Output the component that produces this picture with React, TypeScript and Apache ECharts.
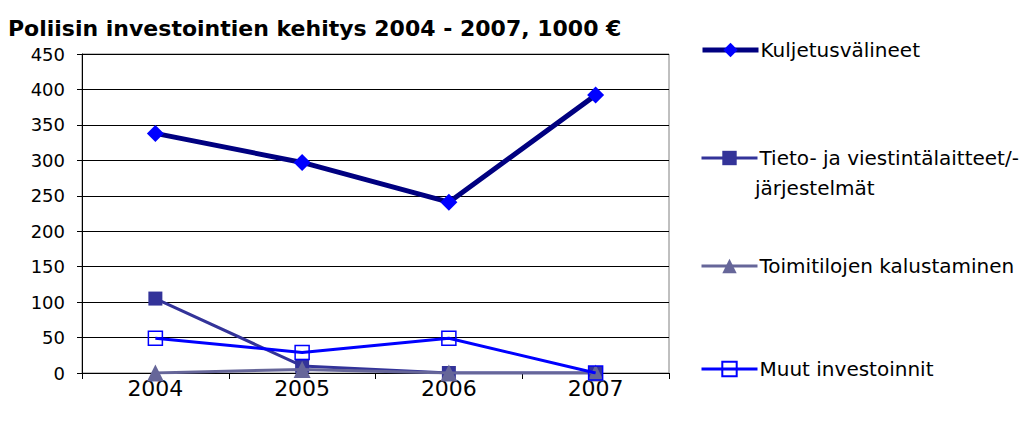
import React, { useEffect, useRef } from "react";
import * as echarts from "echarts";

const categories = ["2004", "2005", "2006", "2007"];
const seriesNames = [
  "Kuljetusvälineet",
  "Tieto- ja viestintälaitteet/-järjestelmät",
  "Toimitilojen kalustaminen",
  "Muut investoinnit",
];
const kuljetus = [338, 297, 241, 392];
const tieto = [105, 10, 0, 0];
const toimitilat = [0, 5, 0, 0];
const muut = [49, 29, 49, 0];
const yTicks = { min: 0, max: 450, interval: 50 };
const titleText = "Poliisin investointien kehitys 2004 - 2007, 1000 €";

const FONT = "'DejaVu Sans', sans-serif";

export default function App() {
  const ref = useRef<HTMLDivElement>(null);
  useEffect(() => {
    if (!ref.current) return;
    const chart = echarts.init(ref.current, undefined, { renderer: "svg" });
    const legendBase = {
      orient: "vertical",
      left: 695,
      itemWidth: 56,
      itemHeight: 18,
      itemGap: 0,
      lineStyle: { width: "inherit" },
      textStyle: { fontFamily: FONT, fontSize: 20, color: "#000", padding: [0, 0, 0, -3] },
      selectedMode: false,
    };
    chart.setOption({
      animation: false,
      textStyle: { fontFamily: FONT },
      title: {
        text: titleText,
        left: 3,
        top: 12,
        textStyle: { fontFamily: FONT, fontSize: 22, fontWeight: "bold", color: "#000" },
      },
      grid: {
        left: 82,
        right: 357,
        top: 54,
        bottom: 53,
        show: true,
        borderColor: "#808080",
        borderWidth: 1,
        backgroundColor: "#fff",
      },
      legend: [
        { ...legendBase, top: 35, data: [seriesNames[0]] },
        {
          ...legendBase,
          top: 143,
          data: [seriesNames[1]],
          formatter: () => "Tieto- ja viestintälaitteet/-",
        },
        { ...legendBase, top: 251, data: [seriesNames[2]] },
        { ...legendBase, top: 354, data: [seriesNames[3]] },
      ],
      graphic: [
        {
          type: "text",
          left: 755,
          top: 178,
          style: { text: "järjestelmät", font: `20px ${FONT}`, fill: "#000" },
        },
      ],
      xAxis: {
        type: "category",
        data: categories,
        boundaryGap: true,
        axisLine: { lineStyle: { color: "#000", width: 1 } },
        axisTick: { show: true, length: 6, inside: false, lineStyle: { color: "#000" } },
        axisLabel: { fontSize: 22, color: "#000", margin: 4, fontFamily: FONT },
        splitLine: { show: false },
      },
      yAxis: {
        type: "value",
        min: yTicks.min,
        max: yTicks.max,
        interval: yTicks.interval,
        axisLine: { show: true, lineStyle: { color: "#000", width: 1 } },
        axisTick: { show: true, length: 5, lineStyle: { color: "#000" } },
        axisLabel: { fontSize: 18, color: "#000", margin: 17, fontFamily: FONT },
        splitLine: { show: true, lineStyle: { color: "#000", width: 1 } },
      },
      series: [
        {
          name: seriesNames[0],
          type: "line",
          data: kuljetus,
          symbol: "diamond",
          symbolSize: 17,
          lineStyle: { color: "#000080", width: 5 },
          itemStyle: { color: "#0000FF" },
          z: 5,
        },
        {
          name: seriesNames[1],
          type: "line",
          data: tieto,
          symbol: "rect",
          symbolSize: 14,
          lineStyle: { color: "#333399", width: 3 },
          itemStyle: { color: "#333399" },
          z: 2,
        },
        {
          name: seriesNames[2],
          type: "line",
          data: toimitilat,
          symbol: "triangle",
          symbolSize: 17,
          lineStyle: { color: "#666699", width: 3 },
          itemStyle: { color: "#666699" },
          z: 3,
        },
        {
          name: seriesNames[3],
          type: "line",
          data: muut,
          symbol: "rect",
          symbolSize: 14,
          lineStyle: { color: "#0000FF", width: 3 },
          itemStyle: { color: "rgba(255,255,255,0)", borderColor: "#0000FF", borderWidth: 1.5 },
          z: 4,
        },
      ],
    });
    return () => chart.dispose();
  }, []);
  return (
    <div
      ref={ref}
      style={{ position: "absolute", left: 0, top: 0, width: 1026, height: 426 }}
    />
  );
}
